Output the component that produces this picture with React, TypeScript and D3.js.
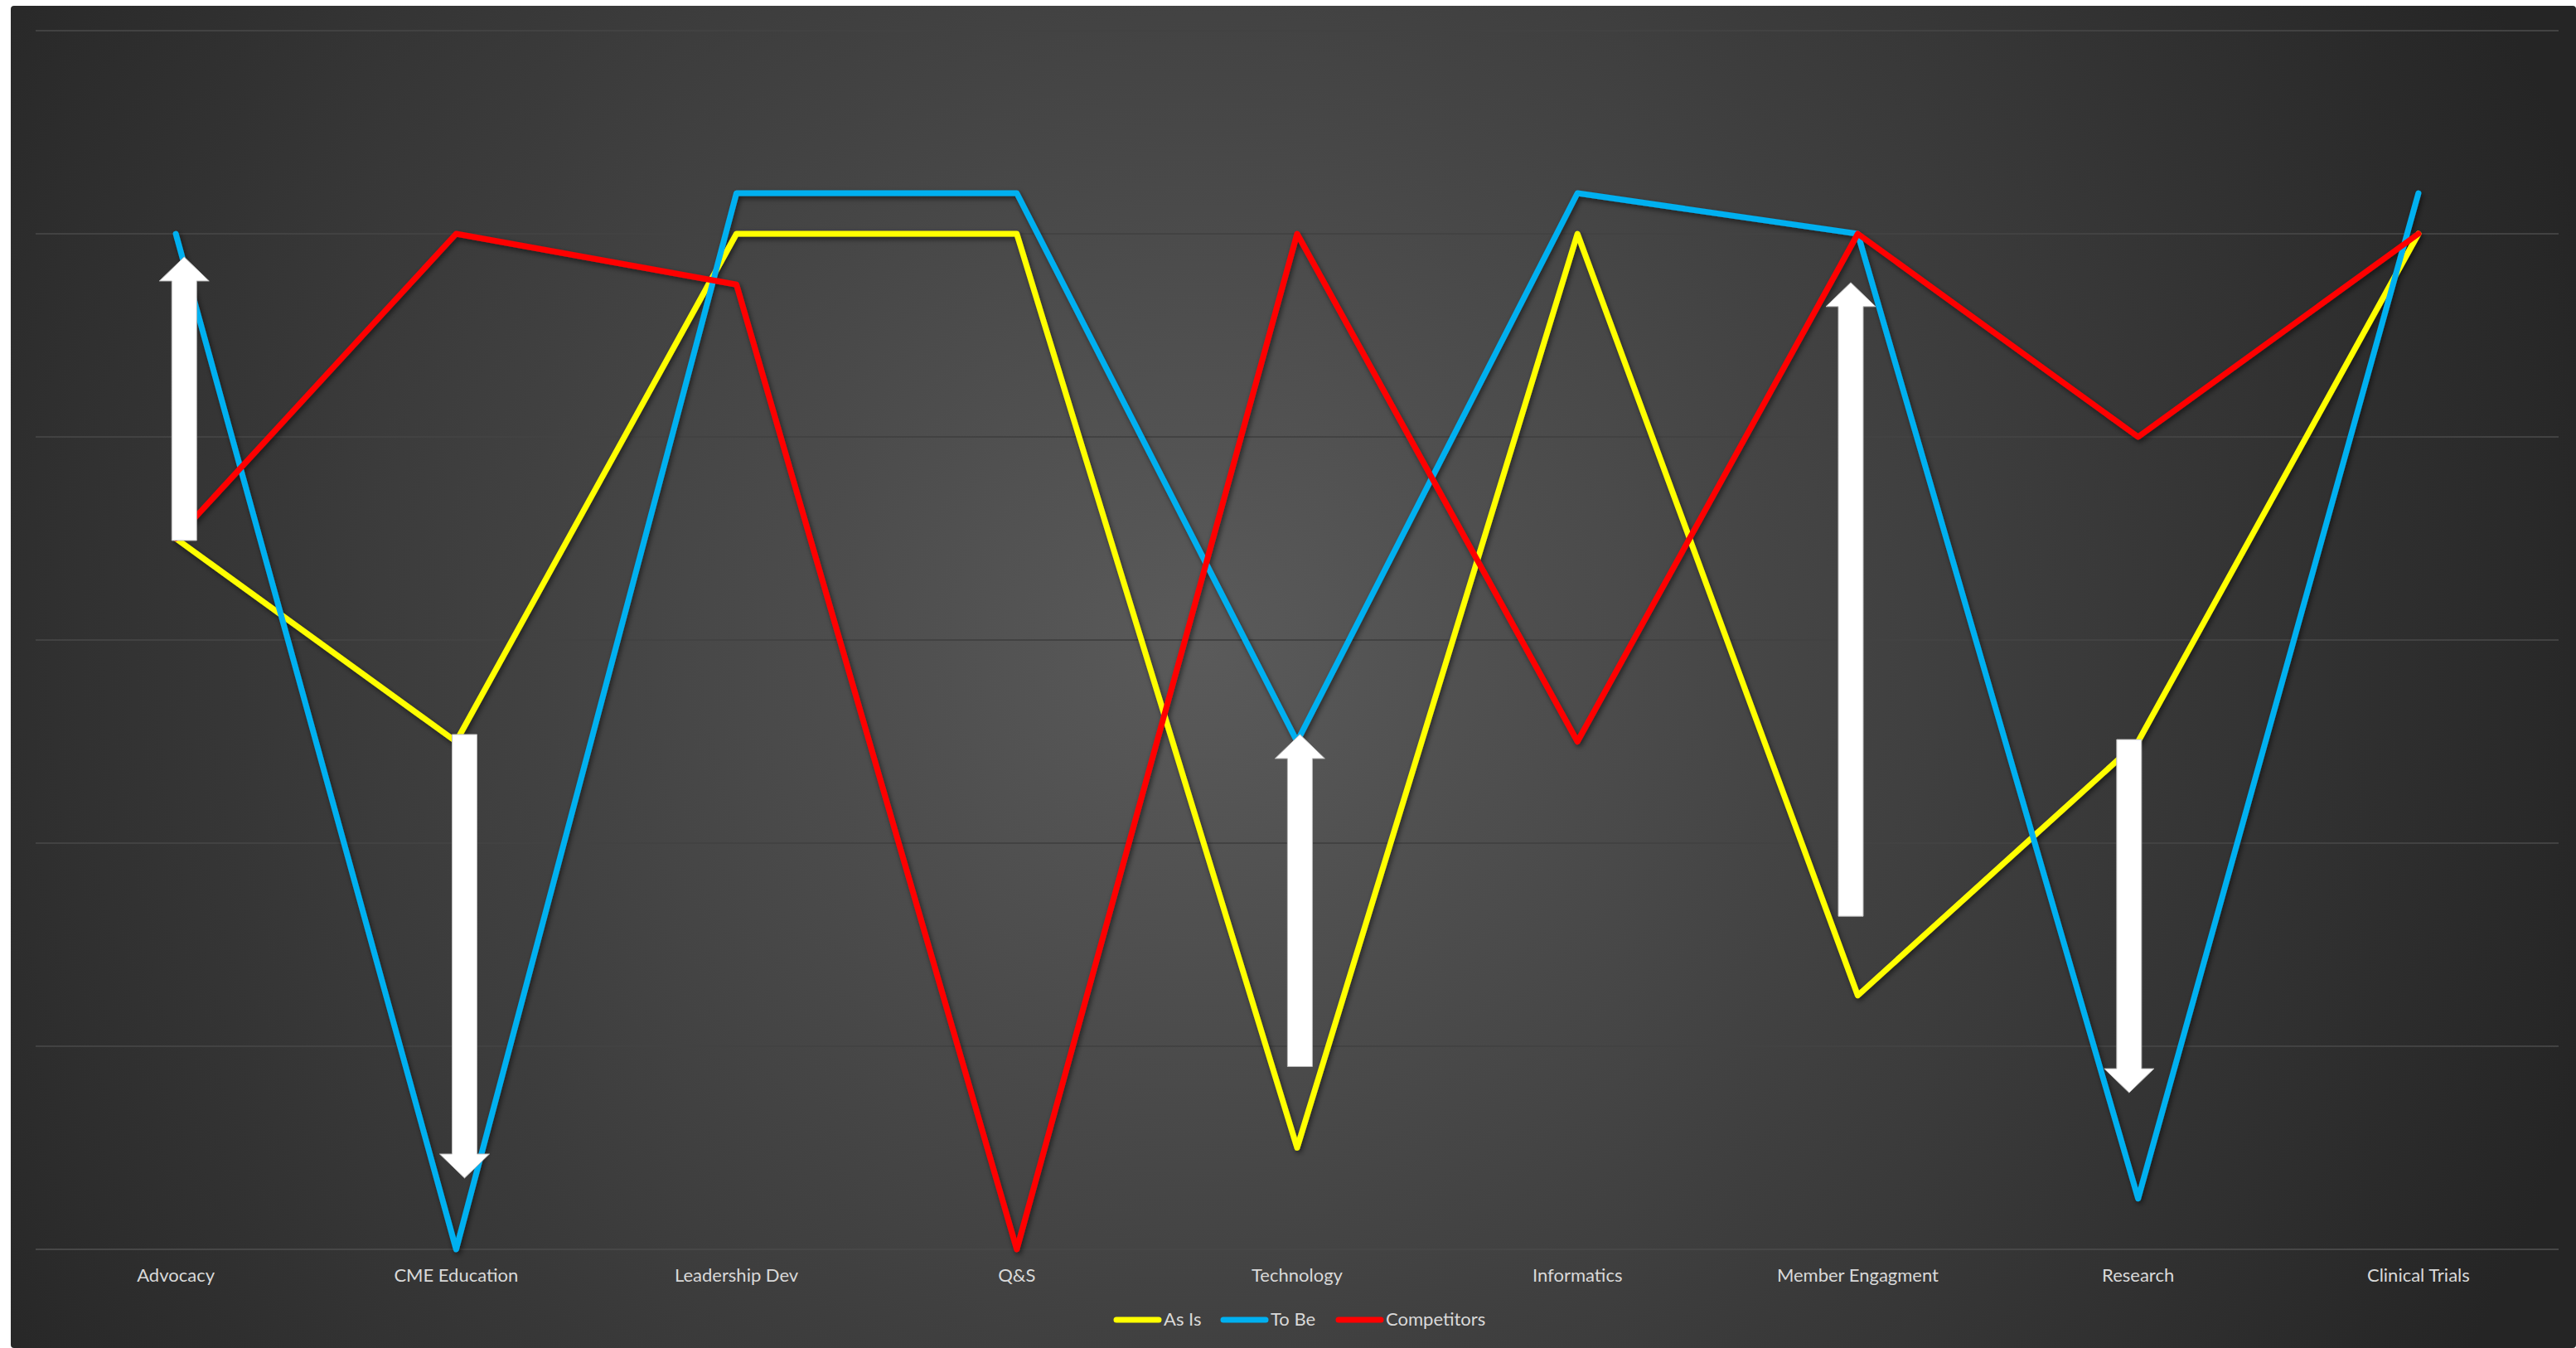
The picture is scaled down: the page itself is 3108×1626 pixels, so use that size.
import React, { useEffect, useRef } from "react";
import * as d3 from "d3";

const categories = ["Advocacy", "CME Education", "Leadership Dev", "Q&S", "Technology", "Informatics", "Member Engagment", "Research", "Clinical Trials"];
const asIs = [3.5, 2.5, 5, 5, 0.5, 5, 1.25, 2.5, 5];
const toBe = [5, 0, 5.2, 5.2, 2.5, 5.2, 5, 0.25, 5.2];
const competitors = [3.5, 5, 4.75, 0, 5, 2.5, 5, 4, 5];
const seriesNames = ["As Is", "To Be", "Competitors"];
const yTicks = [0, 1, 2, 3, 4, 5, 6];
// annotation arrows: category, start value, end value, shift (fraction of band)
const arrowCats = ["Advocacy", "CME Education", "Technology", "Member Engagment", "Research"];
const arrowFrom = [3.49, 2.535, 0.9, 1.64, 2.51];
const arrowTo = [4.886, 0.351, 2.535, 4.76, 0.771];
const arrowShift = [0.03, 0.03, 0.01, -0.025, -0.032];

const W = 3108;
const H = 1626;
const colors = ["#FFFF00", "#00B0F0", "#FF0000"];

export default function App() {
  const ref = useRef<SVGSVGElement>(null);
  useEffect(() => {
    const svg = d3.select(ref.current);
    svg.selectAll("*").remove();
    const defs = svg.append("defs");
    const grad = defs.append("radialGradient").attr("id", "bg").attr("gradientUnits", "userSpaceOnUse")
      .attr("cx", 1450).attr("cy", 780).attr("r", 1750);
    grad.append("stop").attr("offset", "0").attr("stop-color", "#5a5a5a");
    grad.append("stop").attr("offset", "1").attr("stop-color", "#252525");
    const f = defs.append("filter").attr("id", "sh").attr("x", "-10%").attr("y", "-10%").attr("width", "120%").attr("height", "120%");
    f.append("feDropShadow").attr("dx", 2).attr("dy", 3).attr("stdDeviation", 3).attr("flood-color", "#000").attr("flood-opacity", 0.55);

    svg.append("rect").attr("x", 13).attr("y", 7).attr("width", W - 13).attr("height", H - 7).attr("rx", 4).attr("fill", "url(#bg)");

    const x = d3.scaleBand().domain(categories).range([43, 3087]);
    const y = d3.scaleLinear().domain([0, 6]).range([1507, 37]);
    const cx = (c: string) => (x(c) as number) + x.bandwidth() / 2;

    svg.append("g").selectAll("line").data(yTicks).join("line")
      .attr("x1", 43).attr("x2", 3087)
      .attr("y1", (d) => y(d)).attr("y2", (d) => y(d))
      .attr("stroke", (d) => (d === 0 ? "#474747" : "#424242")).attr("stroke-width", 2);

    svg.append("g").selectAll("text").data(categories).join("text")
      .attr("x", (d) => cx(d)).attr("y", 1546)
      .attr("text-anchor", "middle").attr("fill", "#d9d9d9")
      .attr("font-family", "Lato, 'Open Sans', sans-serif").attr("font-size", 22)
      .text((d) => d);

    const all = [asIs, toBe, competitors];
    const line = d3.line<number>().x((_, i) => cx(categories[i])).y((d) => y(d));
    const g = svg.append("g").attr("filter", "url(#sh)");
    all.forEach((s, k) => {
      g.append("path").attr("d", line(s)).attr("fill", "none").attr("stroke", colors[k])
        .attr("stroke-width", 7).attr("stroke-linejoin", "round").attr("stroke-linecap", "round");
    });

    // arrows
    const ag = svg.append("g");
    arrowCats.forEach((c, i) => {
      const ax = cx(c) + arrowShift[i] * x.bandwidth();
      const y0 = y(arrowFrom[i]);
      const y1 = y(arrowTo[i]);
      const dir = y1 < y0 ? -1 : 1;
      const hw = 15, hh = 30, hl = 29;
      const yb = y1 - dir * hl;
      const p = d3.path();
      p.moveTo(ax - hw, y0);
      p.lineTo(ax - hw, yb);
      p.lineTo(ax - hh, yb);
      p.lineTo(ax, y1);
      p.lineTo(ax + hh, yb);
      p.lineTo(ax + hw, yb);
      p.lineTo(ax + hw, y0);
      p.closePath();
      ag.append("path").attr("d", p.toString()).attr("fill", "#ffffff").attr("stroke", "#bdbdbd").attr("stroke-width", 1);
    });

    // legend
    const lx = [1344, 1473, 1612];
    const leg = svg.append("g");
    seriesNames.forEach((n, k) => {
      leg.append("line").attr("x1", lx[k] + 3).attr("x2", lx[k] + 54).attr("y1", 1592).attr("y2", 1592)
        .attr("stroke", colors[k]).attr("stroke-width", 7).attr("stroke-linecap", "round");
      leg.append("text").attr("x", lx[k] + 60).attr("y", 1599).attr("fill", "#d9d9d9")
        .attr("font-family", "Lato, 'Open Sans', sans-serif").attr("font-size", 22).text(n);
    });
  }, []);
  return (
    <svg ref={ref} width={W} height={H} style={{ position: "fixed", left: 0, top: 0, background: "#ffffff" }} />
  );
}
